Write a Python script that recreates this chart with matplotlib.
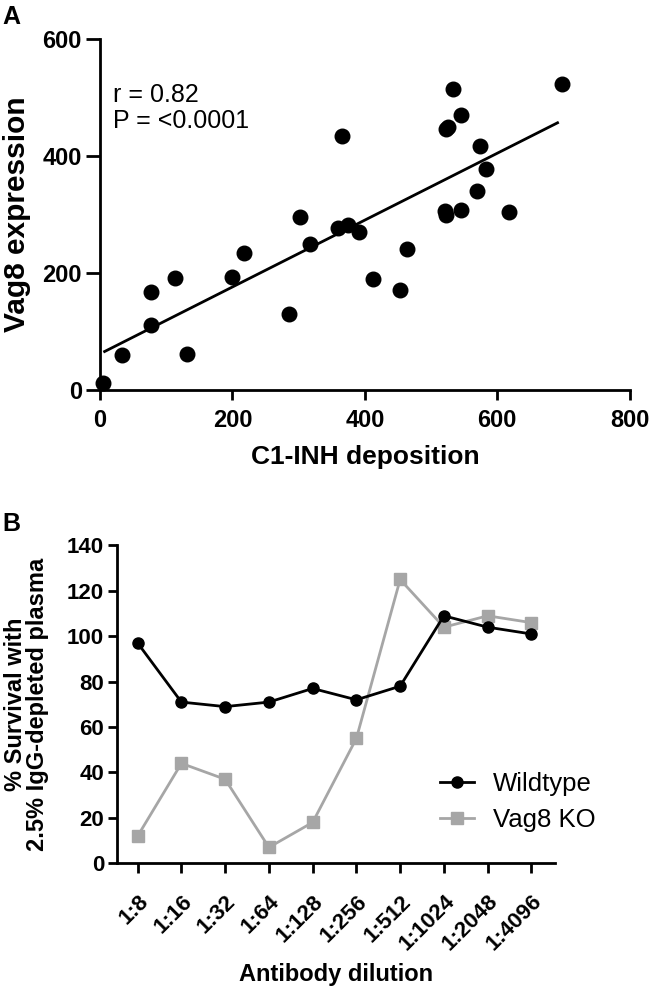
import numpy as np
import matplotlib
matplotlib.use('Agg')
import matplotlib.pyplot as plt

plt.rcParams['font.family'] = ['Liberation Sans', 'DejaVu Sans']

# panel A: C1-INH deposition vs Vag8 expression
c1inh = [4, 33, 77, 77, 114, 131, 199, 218, 285, 302, 317, 359, 375, 391, 412, 366,
         453, 463, 521, 522, 545, 569, 583, 574, 618, 522, 526, 545, 533, 698]
vag8 = [12, 60, 168, 111, 192, 61, 193, 235, 130, 296, 249, 277, 283, 271, 190, 435,
        171, 242, 307, 300, 308, 340, 378, 418, 305, 446, 450, 471, 515, 524]

# panel B: survival curves
dilutions = ['1:8', '1:16', '1:32', '1:64', '1:128', '1:256', '1:512', '1:1024', '1:2048', '1:4096']
wildtype = [97, 71, 69, 71, 77, 72, 78, 109, 104, 101]
vag8_ko = [12, 44, 37, 7, 18, 55, 125, 104, 109, 106]

GREY = '#a6a6a6'

def style_axes(ax, size):
    for s in ['top', 'right']:
        ax.spines[s].set_visible(False)
    for s in ['left', 'bottom']:
        ax.spines[s].set_linewidth(2)
    ax.tick_params(width=2, labelsize=size)
    for lab in ax.get_xticklabels() + ax.get_yticklabels():
        lab.set_fontweight('bold')

fig = plt.figure(figsize=(6.5, 9.91), dpi=100)

# ---- A ----
ax1 = fig.add_axes([0.1538, 0.6065, 0.815, 0.3538])
ax1.scatter(c1inh, vag8, s=110, color='black', zorder=3, clip_on=False)
slope, icpt = np.polyfit(c1inh, vag8, 1)
xl = np.array([7, 691])
ax1.plot(xl, slope * xl + icpt, color='black', lw=2)
ax1.set_xlim(0, 800)
ax1.set_ylim(0, 600)
ax1.set_xticks([0, 200, 400, 600, 800])
ax1.set_yticks([0, 200, 400, 600])
style_axes(ax1, 17)
ax1.tick_params(axis='x', length=7, pad=7)
ax1.tick_params(axis='y', length=10, pad=3)
ax1.set_xlabel('C1-INH deposition', fontsize=19, fontweight='bold', labelpad=9)
ax1.set_ylabel('Vag8 expression', fontsize=21.5, fontweight='bold', labelpad=8)
ax1.text(0.025, 0.875, 'r = 0.82\nP = <0.0001', transform=ax1.transAxes,
         fontsize=18, va='top', ha='left', linespacing=1.1)
fig.text(0.004, 0.995, 'A', fontsize=18, fontweight='bold', va='top')

# ---- B ----
ax2 = fig.add_axes([0.1795, 0.1289, 0.675, 0.3207])
x = np.arange(len(dilutions))
ax2.plot(x, wildtype, color='black', marker='o', ms=8, lw=2, label='Wildtype', zorder=3)
ax2.plot(x, vag8_ko, color=GREY, marker='s', ms=8, lw=2, label='Vag8 KO', zorder=2)
ax2.set_xlim(-0.48, 9.55)
ax2.set_ylim(0, 140)
ax2.set_yticks(np.arange(0, 141, 20))
ax2.set_xticks(x)
ax2.set_xticklabels(dilutions, rotation=45, ha='right', rotation_mode='anchor')
style_axes(ax2, 16)
ax2.tick_params(axis='x', length=7, pad=13)
ax2.tick_params(axis='y', length=6.5, pad=2.5)
ax2.set_xlabel('Antibody dilution', fontsize=17, fontweight='bold', labelpad=6)
ax2.set_ylabel('% Survival with\n2.5% IgG-depleted plasma', fontsize=17,
               fontweight='bold', labelpad=13, linespacing=0.95)
ax2.legend(loc='upper left', bbox_to_anchor=(0.6615, 0.231), bbox_transform=fig.transFigure,
           borderaxespad=0, frameon=False, fontsize=18.5, handlelength=1.3,
           handletextpad=0.75, labelspacing=0.45)
fig.text(0.004, 0.483, 'B', fontsize=18, fontweight='bold', va='top')

fig.savefig('out.png', dpi=100)
